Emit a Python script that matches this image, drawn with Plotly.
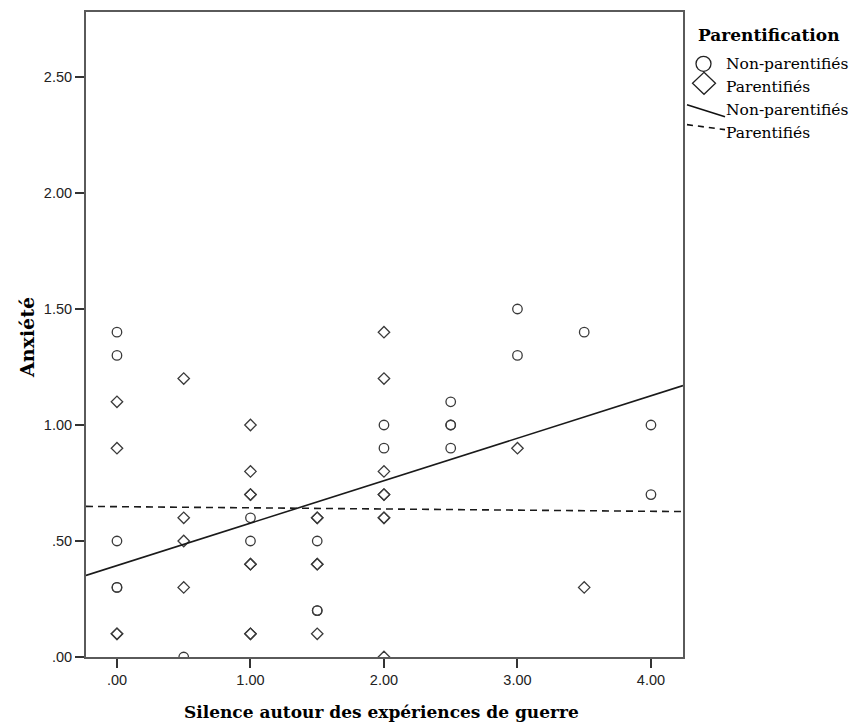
import plotly.graph_objects as go
import numpy as np

# ---- data ----
np_x = [0, 0, 0, 0, 0, 0.5, 1, 1, 1.5, 1.5, 1.5, 2, 2, 2.5, 2.5, 2.5, 2.5, 3, 3, 3.5, 4, 4]
np_y = [1.4, 1.3, 0.5, 0.3, 0.3, 0.0, 0.6, 0.5, 0.5, 0.2, 0.2, 1.0, 0.9, 1.1, 1.0, 1.0, 0.9, 1.5, 1.3, 1.4, 1.0, 0.7]

p_x = [0, 0, 0, 0, 0.5, 0.5, 0.5, 0.5, 1, 1, 1, 1, 1, 1, 1, 1, 1.5, 1.5, 1.5, 1.5, 1.5,
       2, 2, 2, 2, 2, 2, 2, 2, 3, 3.5]
p_y = [1.1, 0.9, 0.1, 0.1, 1.2, 0.6, 0.5, 0.3, 1.0, 0.8, 0.7, 0.7, 0.4, 0.4, 0.1, 0.1, 0.6, 0.6, 0.4, 0.4, 0.1,
       1.4, 1.2, 0.8, 0.7, 0.7, 0.6, 0.6, 0.0, 0.9, 0.3]

# fitted lines (intercept, slope)
fit_np = [0.394, 0.183]
fit_p = [0.648, -0.005]

x_range = [-0.232, 4.24]
y_range = [0.0, 2.78]
x_ticks = [0, 1, 2, 3, 4]
x_ticktext = [".00", "1.00", "2.00", "3.00", "4.00"]
y_ticks = [0, 0.5, 1.0, 1.5, 2.0, 2.5]
y_ticktext = [".00", ".50", "1.00", "1.50", "2.00", "2.50"]

legend_title = "Parentification"
legend_labels = ["Non-parentifiés", "Parentifiés", "Non-parentifiés", "Parentifiés"]
x_title = "Silence autour des expériences de guerre"
y_title = "Anxiété"

# ---- layout geometry (pixels) ----
W, H = 851, 725
L, R, T, B = 86, 683, 10, 657


def px(x):
    return (x - L) / (R - L)


def py(y):
    return (B - y) / (B - T)


mark_col = "#3a3a3a"
fig = go.Figure()

fig.add_trace(go.Scatter(x=np_x, y=np_y, mode="markers",
                         marker=dict(symbol="circle-open", size=9.5, color=mark_col,
                                     line=dict(width=1.3, color=mark_col)),
                         showlegend=False, hoverinfo="skip"))
fig.add_trace(go.Scatter(x=p_x, y=p_y, mode="markers",
                         marker=dict(symbol="diamond-open", size=8.8, color=mark_col,
                                     line=dict(width=1.3, color=mark_col)),
                         showlegend=False, hoverinfo="skip"))

xl = np.array(x_range)
fig.add_trace(go.Scatter(x=xl, y=fit_np[0] + fit_np[1] * xl, mode="lines",
                         line=dict(color="#1a1a1a", width=1.6), showlegend=False, hoverinfo="skip"))
fig.add_trace(go.Scatter(x=xl, y=fit_p[0] + fit_p[1] * xl, mode="lines",
                         line=dict(color="#1a1a1a", width=1.6, dash="7px,5px"),
                         showlegend=False, hoverinfo="skip"))

axis_common = dict(showgrid=False, zeroline=False, showline=True, mirror=True,
                   linecolor="#5a5a5a", linewidth=2, ticks="outside", tickcolor="#333",
                   tickwidth=1.5, ticklen=9,
                   tickfont=dict(family="Liberation Sans, Arial", size=14.5, color="#222"))

fig.update_xaxes(range=x_range, tickvals=x_ticks, ticktext=x_ticktext, **axis_common)
fig.update_yaxes(range=y_range, tickvals=y_ticks, ticktext=y_ticktext, **axis_common)

serif = "DejaVu Serif, serif"
annotations = [
    dict(x=px(381.5), y=py(712), xref="paper", yref="paper", text="<b>" + x_title + "</b>",
         showarrow=False, xanchor="center", yanchor="middle",
         font=dict(family=serif, size=17, color="#000")),
    dict(x=px(27), y=py(337), xref="paper", yref="paper", text="<b>" + y_title + "</b>",
         showarrow=False, xanchor="center", yanchor="middle", textangle=-90,
         font=dict(family=serif, size=19, color="#000")),
    dict(x=px(696), y=py(33), xref="paper", yref="paper", text="<b>" + legend_title + "</b>",
         showarrow=False, xanchor="left", yanchor="middle",
         font=dict(family=serif, size=17, color="#000")),
]
for lab, yc in zip(legend_labels, [62, 85, 108, 131]):
    annotations.append(dict(x=px(724), y=py(yc), xref="paper", yref="paper", text=lab,
                            showarrow=False, xanchor="left", yanchor="middle",
                            font=dict(family=serif, size=15.5, color="#000")))

shapes = [
    dict(type="circle", xref="paper", yref="paper", xsizemode="pixel", ysizemode="pixel",
         xanchor=px(703.5), yanchor=py(62), x0=-7.5, x1=7.5, y0=-7.5, y1=7.5,
         line=dict(color="#222", width=1.3)),
    dict(type="path", xref="paper", yref="paper", xsizemode="pixel", ysizemode="pixel",
         xanchor=px(704), yanchor=py(81.5),
         path="M0,11 L11.5,0 L0,-11 L-11.5,0 Z", line=dict(color="#222", width=1.3)),
    dict(type="line", xref="paper", yref="paper", x0=px(687), y0=py(103), x1=px(725), y1=py(115),
         line=dict(color="#111", width=1.6)),
    dict(type="line", xref="paper", yref="paper", x0=px(687), y0=py(123), x1=px(725), y1=py(128),
         line=dict(color="#111", width=1.6, dash="6px,5px")),
]

fig.update_layout(width=W, height=H, margin=dict(l=L, r=W - R, t=T, b=H - B),
                  paper_bgcolor="white", plot_bgcolor="white",
                  annotations=annotations, shapes=shapes, showlegend=False)

fig.write_html("out.html")
